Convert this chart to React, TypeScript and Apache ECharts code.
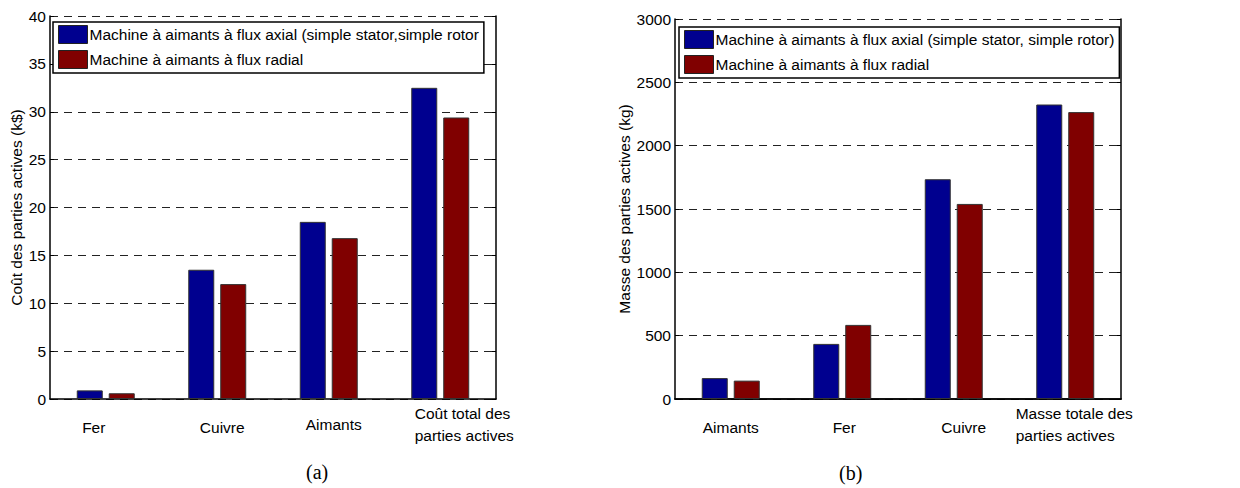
import React, { useEffect, useRef } from "react";
import * as echarts from "echarts";

// ---- Data ----
const categoriesCost = ["Fer", "Cuivre", "Aimants", "Coût total des\nparties actives"];
const axialCost = [0.9, 13.5, 18.5, 32.5];
const radialCost = [0.6, 12.0, 16.8, 29.4];

const categoriesMass = ["Aimants", "Fer", "Cuivre", "Masse totale des\nparties actives"];
const axialMass = [165, 435, 1735, 2325];
const radialMass = [145, 585, 1540, 2265];

const nameAxialA = "Machine à aimants à flux axial (simple stator,simple rotor";
const nameAxialB = "Machine à aimants à flux axial (simple stator, simple rotor)";
const nameRadial = "Machine à aimants à flux radial";

const yTitleA = "Coût des parties actives (k$)";
const yTitleB = "Masse des parties actives (kg)";
const captionA = "(a)";
const captionB = "(b)";

// ---- Styles ----
const BLUE = "#00008F";
const RED = "#800000";
const FONT = "'Liberation Sans', Arial, sans-serif";
const SERIF = "'Liberation Serif', 'Times New Roman', serif";

// horizontal shift and extra top offset of each category label
const shiftsA = [-12, 5, 5, 24];
const dropsA = [14, 14, 11, 0];
const shiftsB = [0, 2, 10, 9];
const dropsB = [14, 14, 14, 0];

function catItems(cats: string[], shifts: number[], drops: number[]) {
  return cats.map((c, i) => {
    const s = shifts[i];
    const padding = s >= 0 ? [drops[i], 0, 0, 2 * s] : [drops[i], -2 * s, 0, 0];
    return { value: c, textStyle: { padding } };
  });
}

function labelFormatter(v: string) {
  if (v.indexOf("\n") >= 0) {
    return v
      .split("\n")
      .map((l) => "{l|" + l + "}")
      .join("\n");
  }
  return v;
}

export default function App() {
  const ref = useRef<HTMLDivElement>(null);
  useEffect(() => {
    if (!ref.current) return;
    const chart = echarts.init(ref.current, undefined, { renderer: "svg" });
    const dashed = { color: "#222", width: 1, type: [8, 6] as any };
    const axisLine = { show: true, lineStyle: { color: "#000", width: 1.5 } };
    const xLabel = {
      interval: 0,
      margin: 3,
      fontSize: 15.5,
      fontFamily: FONT,
      color: "#000",
      lineHeight: 22,
      formatter: labelFormatter,
      rich: { l: { align: "left" as const, fontSize: 15.5, fontFamily: FONT, color: "#000", lineHeight: 22 } },
    };
    const yLabel = {
      fontSize: 15.5,
      fontFamily: FONT,
      color: "#000",
      margin: 4,
      formatter: (v: number) => String(v),
    };
    const barCommon = {
      type: "bar" as const,
      barWidth: 26,
      barGap: "23%",
    };
    const legendCommon = {
      orient: "vertical" as const,
      icon: "rect",
      itemWidth: 29,
      itemHeight: 18,
      itemGap: 6,
      padding: [3, 5, 4, 5],
      borderColor: "#000",
      borderWidth: 1.5,
      backgroundColor: "#fff",
      selectedMode: false,
      textStyle: { fontSize: 15.5, fontFamily: FONT, color: "#000", padding: [0, 0, 0, -3] },
      itemStyle: { borderColor: "#222", borderWidth: 1 },
    };
    const nameStyle = { fontSize: 15.5, fontFamily: FONT, color: "#000" };
    const option: any = {
      animation: false,
      backgroundColor: "#fff",
      grid: [
        { left: 50, top: 16, width: 446, height: 383 },
        { left: 675, top: 19, width: 446, height: 380 },
      ],
      legend: [
        { ...legendCommon, left: 53, top: 22, data: [nameAxialA, nameRadial] },
        { ...legendCommon, left: 679, top: 27, data: [nameAxialB, nameRadial] },
      ],
      xAxis: [
        {
          type: "category",
          gridIndex: 0,
          data: catItems(categoriesCost, shiftsA, dropsA),
          axisLine,
          axisTick: { show: false },
          axisLabel: xLabel,
        },
        {
          type: "category",
          gridIndex: 1,
          data: catItems(categoriesMass, shiftsB, dropsB),
          axisLine,
          axisTick: { show: false },
          axisLabel: xLabel,
        },
        {
          type: "category",
          gridIndex: 1,
          position: "top",
          data: categoriesMass,
          axisLine,
          axisTick: { show: false },
          axisLabel: { show: false },
        },
      ],
      yAxis: [
        {
          type: "value",
          gridIndex: 0,
          min: 0,
          max: 40,
          interval: 5,
          name: yTitleA,
          nameLocation: "middle",
          nameGap: 25,
          nameTextStyle: nameStyle,
          axisLine,
          axisTick: { show: true, inside: true, length: 4, lineStyle: { color: "#000" } },
          axisLabel: yLabel,
          splitLine: { show: true, lineStyle: dashed },
        },
        {
          type: "value",
          gridIndex: 0,
          position: "right",
          min: 0,
          max: 40,
          interval: 5,
          axisLine,
          axisTick: { show: true, inside: true, length: 4, lineStyle: { color: "#000" } },
          axisLabel: { show: false },
          splitLine: { show: false },
        },
        {
          type: "value",
          gridIndex: 1,
          min: 0,
          max: 3000,
          interval: 500,
          name: yTitleB,
          nameLocation: "middle",
          nameGap: 41,
          nameTextStyle: nameStyle,
          axisLine,
          axisTick: { show: true, inside: true, length: 4, lineStyle: { color: "#000" } },
          axisLabel: yLabel,
          splitLine: { show: true, lineStyle: dashed },
        },
        {
          type: "value",
          gridIndex: 1,
          position: "right",
          min: 0,
          max: 3000,
          interval: 500,
          axisLine,
          axisTick: { show: true, inside: true, length: 4, lineStyle: { color: "#000" } },
          axisLabel: { show: false },
          splitLine: { show: false },
        },
      ],
      series: [
        {
          ...barCommon,
          name: nameAxialA,
          xAxisIndex: 0,
          yAxisIndex: 0,
          data: axialCost,
          itemStyle: { color: BLUE, borderColor: "#333", borderWidth: 1 },
        },
        {
          ...barCommon,
          name: nameRadial,
          xAxisIndex: 0,
          yAxisIndex: 0,
          data: radialCost,
          itemStyle: { color: RED, borderColor: "#333", borderWidth: 1 },
        },
        {
          ...barCommon,
          name: nameAxialB,
          xAxisIndex: 1,
          yAxisIndex: 2,
          data: axialMass,
          itemStyle: { color: BLUE, borderColor: "#333", borderWidth: 1 },
        },
        {
          ...barCommon,
          name: nameRadial,
          xAxisIndex: 1,
          yAxisIndex: 2,
          data: radialMass,
          itemStyle: { color: RED, borderColor: "#333", borderWidth: 1 },
        },
      ],
      graphic: [
        {
          type: "text",
          left: 306,
          top: 462,
          style: { text: captionA, fontSize: 20, fontFamily: SERIF, fill: "#000" },
        },
        {
          type: "text",
          left: 839,
          top: 463,
          style: { text: captionB, fontSize: 20, fontFamily: SERIF, fill: "#000" },
        },
      ],
    };
    chart.setOption(option);
    return () => chart.dispose();
  }, []);
  return (
    <div
      ref={ref}
      style={{ position: "absolute", left: 0, top: 0, width: 1240, height: 488 }}
    />
  );
}
